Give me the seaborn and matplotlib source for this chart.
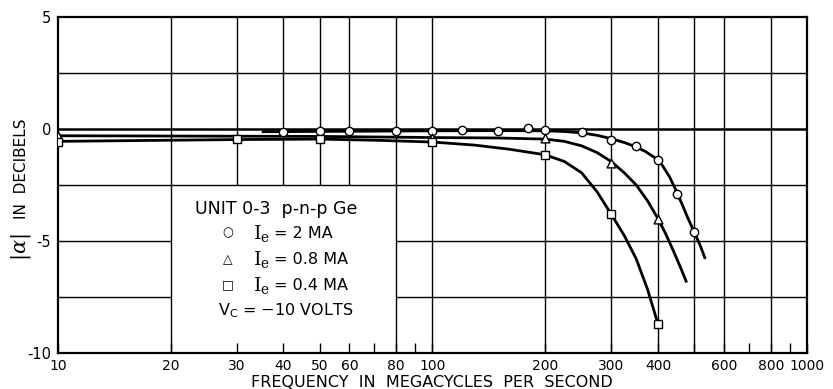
import matplotlib
matplotlib.use("Agg")
import matplotlib.pyplot as plt
import seaborn as sns
import pandas as pd
from matplotlib.patches import Rectangle
from matplotlib.ticker import FixedLocator, FixedFormatter, NullFormatter

# ---- data ----
# measured points (frequency in Mc/s, |alpha| in dB)
f_2ma = [40, 50, 60, 80, 100, 120, 150, 180, 200, 250, 300, 350, 400, 450, 500]
db_2ma = [-0.15, -0.1, -0.1, -0.1, -0.1, -0.05, -0.1, 0.05, -0.05, -0.15, -0.5, -0.75, -1.4, -2.9, -4.6]

f_08ma = [10, 100, 200, 300, 400]
db_08ma = [-0.3, -0.4, -0.4, -1.5, -4.0]

f_04ma = [10, 30, 50, 100, 200, 300, 400]
db_04ma = [-0.6, -0.46, -0.45, -0.6, -1.15, -3.8, -8.7]

# drawn smooth curves
curve_2ma_f = [35, 60, 100, 150, 200, 225, 250, 275, 300, 325, 350, 370, 390, 410, 430, 450,
               465, 480, 500, 520, 535]
curve_2ma_db = [-0.12, -0.1, -0.08, -0.07, -0.08, -0.11, -0.17, -0.28, -0.43, -0.6, -0.8, -1.0,
                -1.25, -1.6, -2.15, -2.85, -3.4, -3.95, -4.6, -5.25, -5.8]

curve_08_f = [10, 50, 100, 150, 200, 225, 250, 275, 300, 325, 350, 375, 400, 420, 440, 460, 477]
curve_08_db = [-0.3, -0.33, -0.38, -0.4, -0.45, -0.55, -0.75, -1.05, -1.45, -1.95, -2.5, -3.2,
               -4.0, -4.7, -5.45, -6.2, -6.85]

curve_04_f = [10, 20, 30, 50, 70, 100, 130, 160, 200, 225, 250, 275, 300, 325, 350, 375, 400]
curve_04_db = [-0.55, -0.5, -0.47, -0.45, -0.5, -0.58, -0.72, -0.9, -1.15, -1.45, -1.95, -2.8,
               -3.8, -4.75, -5.8, -7.15, -8.7]

x_ticks = [10, 20, 30, 40, 50, 60, 80, 100, 200, 300, 400, 600, 800, 1000]
x_tick_labels = ["10", "20", "30", "40", "50", "60", "80", "100", "200", "300", "400", "600", "800", "1000"]
x_minor_ticks = [70, 90, 500, 700, 900]
x_grid = [20, 30, 40, 50, 60, 80, 100, 200, 300, 400, 500, 600, 800]
y_ticks = [5, 0, -5, -10]
y_tick_labels = ["5", "0", "-5", "-10"]
y_grid = [2.5, 0, -2.5, -5, -7.5]

# ---- style ----
sns.set_theme(style="white")
plt.rcParams["font.family"] = ["DejaVu Sans"]
plt.rcParams["axes.unicode_minus"] = False
plt.rcParams["mathtext.fontset"] = "dejavuserif"
plt.rcParams["text.color"] = "black"
plt.rcParams["xtick.color"] = "black"
plt.rcParams["ytick.color"] = "black"

fig = plt.figure(figsize=(8.33, 3.89), dpi=100)
ax = fig.add_axes([0.0696, 0.0925, 0.8992, 0.8637])
ax.set_xscale("log")
ax.set_xlim(10, 1000)
ax.set_ylim(-10, 5)

# grid
for xv in x_grid:
    z = 3 if xv in (20, 80) else 1
    ax.axvline(xv, color="black", lw=1.0, zorder=z)
for yv in y_grid:
    z = 3 if yv in (2.5, 0, -2.5) else 1
    ax.axhline(yv, color="black", lw=1.8 if yv == 0 else 1.0, zorder=z)

# white legend panel hiding the grid
ax.add_patch(Rectangle((20, -10), 60, 7.5, facecolor="white", edgecolor="none", zorder=2))

# curves
curves = pd.concat([
    pd.DataFrame({"f": curve_2ma_f, "db": curve_2ma_db, "s": "2"}),
    pd.DataFrame({"f": curve_08_f, "db": curve_08_db, "s": "0.8"}),
    pd.DataFrame({"f": curve_04_f, "db": curve_04_db, "s": "0.4"}),
])
sns.lineplot(data=curves, x="f", y="db", hue="s", palette=["black"] * 3, sort=False,
             estimator=None, legend=False, lw=2.0, ax=ax, zorder=4)
for ln in ax.lines[-3:]:
    ln.set_solid_joinstyle("round")
    ln.set_solid_capstyle("butt")

# points
for fx, dy, mk, sz in [(f_2ma, db_2ma, "o", 36), (f_08ma, db_08ma, "^", 40), (f_04ma, db_04ma, "s", 32)]:
    sns.scatterplot(x=fx, y=dy, marker=mk, s=sz, facecolor="white", edgecolor="black",
                    linewidth=1.0, ax=ax, zorder=5)

# axes / ticks
for sp in ax.spines.values():
    sp.set_linewidth(1.6)
    sp.set_color("black")
ax.set_axisbelow(False)
ax.xaxis.set_major_locator(FixedLocator(x_ticks))
ax.xaxis.set_major_formatter(FixedFormatter(x_tick_labels))
ax.xaxis.set_minor_locator(FixedLocator(x_minor_ticks))
ax.xaxis.set_minor_formatter(NullFormatter())
ax.tick_params(axis="x", which="both", direction="in", length=7, width=1.0, color="black",
               labelsize=10, pad=4, bottom=True, top=False, labelcolor="black")
ax.set_yticks(y_ticks)
ax.set_yticklabels(y_tick_labels)
ax.tick_params(axis="y", length=0, labelsize=10.5, pad=5, labelcolor="black")
ax.set_xlabel("")
ax.set_ylabel("")

# axis titles
fig.text(0.519, 0.016, "FREQUENCY  IN  MEGACYCLES  PER  SECOND", ha="center", va="center",
         fontsize=11.5, color="black")
fig.text(0.026, 0.565, "IN  DECIBELS", rotation=90, ha="center", va="center", fontsize=11, color="black")
fig.text(0.025, 0.365, r"$|\alpha|$", rotation=90, ha="center", va="center", fontsize=15, color="black")

# legend panel text
tx = ax.transAxes
ax.text(0.183, 0.4286, "UNIT 0-3  p-n-p Ge", transform=tx, ha="left", va="center", fontsize=12.5, zorder=6)
rows = [("○", r"$\mathrm{I_e}$", "= 2 MA", 0.357),
        ("△", r"$\mathrm{I_e}$", "= 0.8 MA", 0.277),
        ("□", r"$\mathrm{I_e}$", "= 0.4 MA", 0.202)]
for sym, ie, rest, yy in rows:
    ax.text(0.227, yy, sym, transform=tx, ha="center", va="center", fontsize=9, zorder=6)
    t = ax.text(0.260, yy, ie, transform=tx, ha="left", va="center", fontsize=14, zorder=6)
    ax.annotate(rest, xy=(1, 0.5), xycoords=t, xytext=(3, 0), textcoords="offset points",
                ha="left", va="center", fontsize=11.5, zorder=6)
ax.text(0.2136, 0.125, r"V$_{\mathsf{C}}$ = −10 VOLTS", transform=tx, ha="left", va="center",
        fontsize=11.5, zorder=6)

fig.savefig("out.png", dpi=100)
